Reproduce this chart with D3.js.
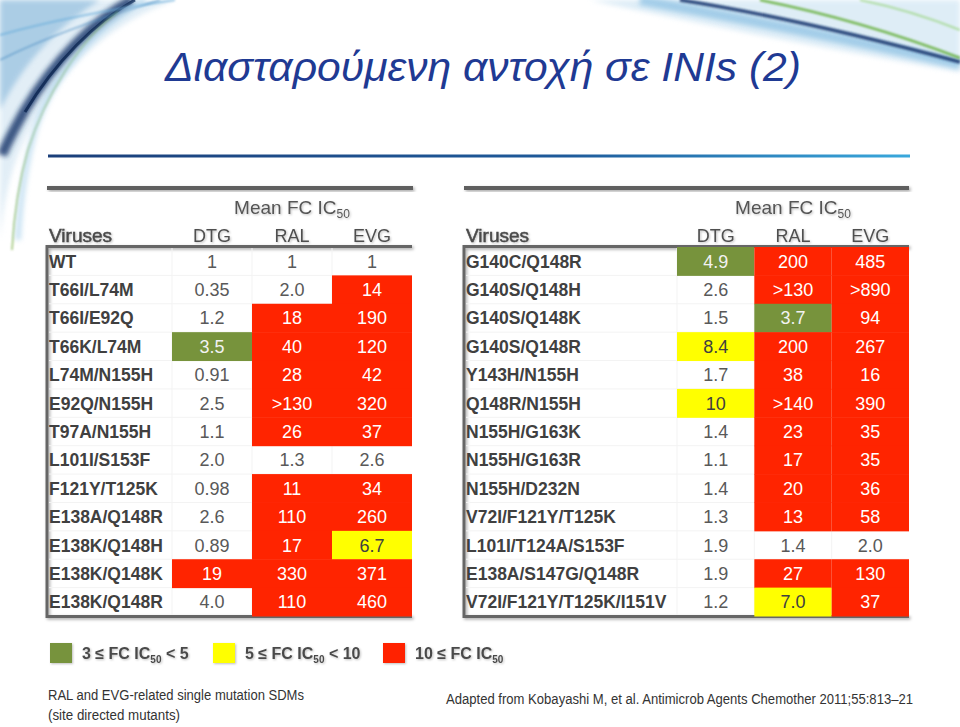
<!DOCTYPE html>
<html>
<head>
<meta charset="utf-8">
<script src="https://cdn.jsdelivr.net/npm/d3@7"></script>
<style>
  html, body { margin: 0; padding: 0; background: #ffffff; }
  svg { display: block; font-family: "Liberation Sans", Arial, sans-serif; }
</style>
</head>
<body>
<svg id="chart" width="960" height="727"></svg>
<script>
// ---------------- DATA ----------------
const columns = ["DTG", "RAL", "EVG"];

const leftViruses = ["WT", "T66I/L74M", "T66I/E92Q", "T66K/L74M", "L74M/N155H", "E92Q/N155H",
  "T97A/N155H", "L101I/S153F", "F121Y/T125K", "E138A/Q148R", "E138K/Q148H", "E138K/Q148K", "E138K/Q148R"];
const leftDTG = ["1", "0.35", "1.2", "3.5", "0.91", "2.5", "1.1", "2.0", "0.98", "2.6", "0.89", "19", "4.0"];
const leftRAL = ["1", "2.0", "18", "40", "28", ">130", "26", "1.3", "11", "110", "17", "330", "110"];
const leftEVG = ["1", "14", "190", "120", "42", "320", "37", "2.6", "34", "260", "6.7", "371", "460"];
// highlight level per cell: 0 none, 1 = 3–5 (green), 2 = 5–10 (yellow), 3 = ≥10 (red)
const leftDTGLevel = [0, 0, 0, 1, 0, 0, 0, 0, 0, 0, 0, 3, 0];
const leftRALLevel = [0, 0, 3, 3, 3, 3, 3, 0, 3, 3, 3, 3, 3];
const leftEVGLevel = [0, 3, 3, 3, 3, 3, 3, 0, 3, 3, 2, 3, 3];

const rightViruses = ["G140C/Q148R", "G140S/Q148H", "G140S/Q148K", "G140S/Q148R", "Y143H/N155H", "Q148R/N155H",
  "N155H/G163K", "N155H/G163R", "N155H/D232N", "V72I/F121Y/T125K", "L101I/T124A/S153F", "E138A/S147G/Q148R",
  "V72I/F121Y/T125K/I151V"];
const rightDTG = ["4.9", "2.6", "1.5", "8.4", "1.7", "10", "1.4", "1.1", "1.4", "1.3", "1.9", "1.9", "1.2"];
const rightRAL = ["200", ">130", "3.7", "200", "38", ">140", "23", "17", "20", "13", "1.4", "27", "7.0"];
const rightEVG = ["485", ">890", "94", "267", "16", "390", "35", "35", "36", "58", "2.0", "130", "37"];
const rightDTGLevel = [1, 0, 0, 2, 0, 2, 0, 0, 0, 0, 0, 0, 0];
const rightRALLevel = [3, 3, 1, 3, 3, 3, 3, 3, 3, 3, 0, 3, 2];
const rightEVGLevel = [3, 3, 3, 3, 3, 3, 3, 3, 3, 3, 0, 3, 3];

const legendLabels = ["3 ≤ FC IC|50| < 5", "5 ≤ FC IC|50| < 10", "10 ≤ FC IC|50|"];
const legendLevels = [1, 2, 3];

const titleText = "Διασταρούμενη αντοχή σε INIs (2)";
const headerTitle = "Mean FC IC";
const headerSub = "50";
const footLeft = ["RAL and EVG-related single mutation SDMs", "(site directed mutants)"];
const footRight = "Adapted from Kobayashi M, et al. Antimicrob Agents Chemother 2011;55:813–21";

// ---------------- STYLE ----------------
const levelColor = d3.scaleOrdinal().domain([0, 1, 2, 3]).range(["none", "#77933C", "#FFFF00", "#FF2400"]);
const levelText = d3.scaleOrdinal().domain([0, 1, 2, 3]).range(["#595959", "#f2f2f2", "#404040", "#ffffff"]);

const svg = d3.select("#chart");
const defs = svg.append("defs");

const sh = defs.append("filter").attr("id", "shadow").attr("x", "-20%").attr("y", "-50%").attr("width", "140%").attr("height", "200%");
sh.append("feDropShadow").attr("dx", 1.5).attr("dy", 1.5).attr("stdDeviation", 1.5).attr("flood-color", "#000").attr("flood-opacity", 0.35);
const tsh = defs.append("filter").attr("id", "tshadow").attr("x", "-10%").attr("y", "-30%").attr("width", "120%").attr("height", "160%");
tsh.append("feDropShadow").attr("dx", 1).attr("dy", 1).attr("stdDeviation", 1.2).attr("flood-color", "#000").attr("flood-opacity", 0.25);
const blur = defs.append("filter").attr("id", "blur").attr("x", "-20%").attr("y", "-20%").attr("width", "140%").attr("height", "140%");
blur.append("feGaussianBlur").attr("stdDeviation", 2.5);
const blurS = defs.append("filter").attr("id", "blurS");
blurS.append("feGaussianBlur").attr("stdDeviation", 0.8);

const lg = defs.append("linearGradient").attr("id", "rule").attr("x1", "0").attr("x2", "1");
lg.append("stop").attr("offset", "0").attr("stop-color", "#1b3f7a");
lg.append("stop").attr("offset", "0.6").attr("stop-color", "#1e5a9a");
lg.append("stop").attr("offset", "1").attr("stop-color", "#39a8dc");

// ---------------- DECORATIVE SWOOSHES ----------------
const deco = svg.append("g");
// top-left corner
deco.append("path").attr("d", "M0,0 L175,0 C120,20 60,60 20,150 C10,175 4,200 0,240 Z")
  .attr("fill", "#cfe3f1").attr("opacity", 0.6).attr("filter", "url(#blur)");
deco.append("path").attr("d", "M0,0 L100,0 C60,25 25,60 0,110 Z").attr("fill", "#8fbcdd").attr("opacity", 0.65).attr("filter", "url(#blur)");
deco.append("path").attr("d", "M132,0 C95,20 55,60 25,110 C15,128 8,140 2,155")
  .attr("fill", "none").attr("stroke", "#1b3a6e").attr("stroke-width", 10).attr("opacity", 0.85).attr("filter", "url(#blur)");
deco.append("path").attr("d", "M135,0 C95,22 55,62 25,112")
  .attr("fill", "none").attr("stroke", "#112a55").attr("stroke-width", 3).attr("opacity", 0.9);
deco.append("path").attr("d", "M118,12 C80,40 45,95 28,150 C18,185 14,215 12,250")
  .attr("fill", "none").attr("stroke", "#7fb24a").attr("stroke-width", 1.5).attr("opacity", 0.8).attr("filter", "url(#blurS)");
deco.append("path").attr("d", "M0,35 C60,18 120,8 175,0")
  .attr("fill", "none").attr("stroke", "#6fb0dc").attr("stroke-width", 2).attr("opacity", 0.7).attr("filter", "url(#blurS)");
deco.append("path").attr("d", "M0,60 C50,35 110,15 160,0")
  .attr("fill", "none").attr("stroke", "#4a8cc2").attr("stroke-width", 1.5).attr("opacity", 0.6).attr("filter", "url(#blurS)");
deco.append("path").attr("d", "M145,0 C90,30 50,80 35,130 C25,165 20,200 18,240")
  .attr("fill", "none").attr("stroke", "#a9d1ec").attr("stroke-width", 6).attr("opacity", 0.6).attr("filter", "url(#blur)");
// top-right corner
deco.append("path").attr("d", "M590,0 C690,22 820,48 960,72 L960,0 Z")
  .attr("fill", "#d3e7f4").attr("opacity", 0.75).attr("filter", "url(#blur)");
deco.append("path").attr("d", "M640,0 C750,20 860,42 960,64")
  .attr("fill", "none").attr("stroke", "#8fc2e4").attr("stroke-width", 10).attr("opacity", 0.75).attr("filter", "url(#blur)");
deco.append("path").attr("d", "M680,0 C770,14 860,35 960,62")
  .attr("fill", "none").attr("stroke", "#1c3b72").attr("stroke-width", 3.5).attr("opacity", 0.9).attr("filter", "url(#blurS)");
deco.append("path").attr("d", "M760,0 C830,14 900,35 960,58")
  .attr("fill", "none").attr("stroke", "#6bb243").attr("stroke-width", 2.5).attr("opacity", 0.9).attr("filter", "url(#blurS)");
deco.append("path").attr("d", "M860,0 C900,8 935,20 960,30")
  .attr("fill", "none").attr("stroke", "#8ed06a").attr("stroke-width", 2).attr("opacity", 0.6).attr("filter", "url(#blurS)");

// ---------------- TITLE ----------------
svg.append("text").attr("x", 165).attr("y", 81)
  .attr("font-size", 40).attr("font-style", "italic").attr("fill", "#1f3a93")
  .attr("textLength", 636).attr("lengthAdjust", "spacingAndGlyphs")
  .text(titleText);

svg.append("rect").attr("x", 48).attr("y", 154.5).attr("width", 862).attr("height", 3).attr("fill", "url(#rule)");

// ---------------- TABLES ----------------
const rowScale = d3.scaleBand().domain(d3.range(13)).range([247, 616]).paddingInner(0);

function drawTable(cfg) {
  const g = svg.append("g");
  const colScale = d3.scaleBand().domain(columns).range([cfg.colStart, cfg.right]);
  // top grey rule
  g.append("rect").attr("x", cfg.left + 1).attr("y", 186).attr("width", cfg.ruleRight - cfg.left - 1).attr("height", 4)
    .attr("fill", "#5f5f5f").attr("filter", "url(#shadow)");
  // header
  const hx = colScale("RAL") + colScale.bandwidth() / 2;
  const ht = g.append("text").attr("x", hx).attr("y", 214).attr("text-anchor", "middle")
    .attr("font-size", 19).attr("fill", "#555555").attr("filter", "url(#tshadow)");
  ht.append("tspan").text(headerTitle);
  ht.append("tspan").attr("font-size", 12).attr("dy", 4).text(headerSub);
  g.append("text").attr("x", cfg.left + 3).attr("y", 242).attr("font-size", 19)
    .attr("fill", "#4a4a4a").attr("stroke", "#4a4a4a").attr("stroke-width", 0.5)
    .attr("filter", "url(#tshadow)").text("Viruses");
  g.selectAll(".colh").data(columns).join("text")
    .attr("x", d => colScale(d) + colScale.bandwidth() / 2).attr("y", 242)
    .attr("text-anchor", "middle").attr("font-size", 18).attr("fill", "#505050").attr("filter", "url(#tshadow)")
    .text(d => d);

  // frame: open on the right, shadowed on left/top/bottom
  g.append("path")
    .attr("d", `M${cfg.right},246.5 L${cfg.left + 1},246.5 L${cfg.left + 1},616.5 L${cfg.right},616.5`)
    .attr("fill", "none").attr("stroke", "#666666").attr("stroke-width", 3).attr("filter", "url(#shadow)");

  // faint grid
  const grid = g.append("g").attr("stroke", "#f3f3f3").attr("stroke-width", 1);
  grid.selectAll(".hl").data(d3.range(1, 13)).join("line")
    .attr("x1", cfg.left + 3).attr("x2", cfg.right).attr("y1", d => rowScale(d)).attr("y2", d => rowScale(d));
  grid.selectAll(".vl").data(columns).join("line")
    .attr("x1", d => colScale(d)).attr("x2", d => colScale(d)).attr("y1", 248).attr("y2", 615);

  // colored cells
  const cells = [];
  cfg.viruses.forEach((v, i) => {
    columns.forEach((c, j) => {
      cells.push({ row: i, col: c, value: cfg.values[j][i], level: cfg.levels[j][i] });
    });
  });
  g.selectAll(".cell").data(cells.filter(d => d.level > 0)).join("rect")
    .attr("x", d => colScale(d.col)).attr("y", d => rowScale(d.row))
    .attr("width", colScale.bandwidth()).attr("height", rowScale.bandwidth() + 0.5)
    .attr("fill", d => levelColor(d.level));

  // names
  g.selectAll(".name").data(cfg.viruses).join("text")
    .attr("x", cfg.left + 3).attr("y", (d, i) => rowScale(i) + rowScale.bandwidth() / 2 + 6.5)
    .attr("font-size", 17.5).attr("font-weight", "bold").attr("fill", "#404040").text(d => d);
  // values
  g.selectAll(".val").data(cells).join("text")
    .attr("x", d => colScale(d.col) + colScale.bandwidth() / 2)
    .attr("y", d => rowScale(d.row) + rowScale.bandwidth() / 2 + 6.5)
    .attr("text-anchor", "middle").attr("font-size", 18).attr("fill", d => levelText(d.level))
    .text(d => d.value);
}

drawTable({ left: 46, colStart: 172, right: 412, ruleRight: 413,
  viruses: leftViruses, values: [leftDTG, leftRAL, leftEVG], levels: [leftDTGLevel, leftRALLevel, leftEVGLevel] });
drawTable({ left: 463, colStart: 677, right: 909, ruleRight: 909,
  viruses: rightViruses, values: [rightDTG, rightRAL, rightEVG], levels: [rightDTGLevel, rightRALLevel, rightEVGLevel] });

// ---------------- LEGEND ----------------
const legX = d3.scaleOrdinal().domain(legendLevels).range([50, 213, 383]);
const leg = svg.append("g");
leg.selectAll("rect").data(legendLevels).join("rect")
  .attr("x", d => legX(d)).attr("y", 643).attr("width", 22).attr("height", 20)
  .attr("fill", d => levelColor(d)).attr("filter", "url(#tshadow)");
leg.selectAll("text").data(legendLabels).join("text")
  .attr("x", (d, i) => legX(legendLevels[i]) + 32).attr("y", 659)
  .attr("font-size", 16).attr("font-weight", "bold").attr("fill", "#4a4a4a").attr("filter", "url(#tshadow)")
  .each(function (d) {
    const parts = d.split("|");
    const t = d3.select(this);
    t.append("tspan").text(parts[0]);
    t.append("tspan").attr("font-size", 10).attr("dy", 4).text(parts[1]);
    if (parts[2]) t.append("tspan").attr("dy", -4).text(parts[2]);
  });

// ---------------- FOOTER ----------------
const footLen = [256, 132];
svg.selectAll(".fl").data(footLeft).join("text")
  .attr("x", 48).attr("y", (d, i) => 700 + i * 20)
  .attr("font-size", 14).attr("fill", "#333333")
  .attr("textLength", (d, i) => footLen[i]).attr("lengthAdjust", "spacingAndGlyphs")
  .text(d => d);
svg.append("text").attr("x", 446).attr("y", 704).attr("font-size", 14).attr("fill", "#333333")
  .attr("textLength", 467).attr("lengthAdjust", "spacingAndGlyphs").text(footRight);
</script>
</body>
</html>
